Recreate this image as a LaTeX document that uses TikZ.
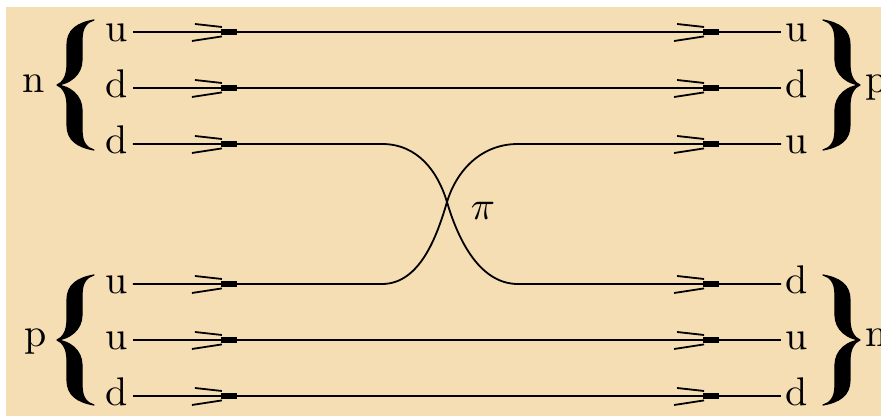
\documentclass[tikz,border=0pt]{standalone}
\usetikzlibrary{decorations.markings}
\definecolor{bg}{HTML}{F5DEB3}
\newcommand\quarkmark{%
  \draw[line width=0.45pt] (-10.5pt,2pt) -- (-3.75pt,1.25pt);
  \draw[line width=0.45pt] (-11.25pt,-2.25pt) -- (-3.75pt,-1.1pt);
  \draw[line width=1.6pt] (-4pt,0pt) -- (0pt,0pt);}
\tikzset{
  x=0.25pt, y=-0.25pt,
  q/.style={inner xsep=1pt, inner ysep=0pt, text height=4.8pt, text depth=0pt},
  side/.style={inner sep=0pt, anchor=base},
  quark/.style={line width=0.45pt, postaction={decorate},
    decoration={markings,
      mark=at position 26pt with {\quarkmark},
      mark=at position -15.5pt with {\quarkmark}}},
  curlybrace/.pic={
    \filldraw[line width=0.3pt, line join=round]
      (37,-65) .. controls (20,-62) and (10,-55) .. (10,-40) -- (10,-20)
      .. controls (10,-8) and (5,-2) .. (0,0)
      .. controls (5,2) and (10,8) .. (10,20) -- (10,40)
      .. controls (10,55) and (20,62) .. (37,65)
      .. controls (30,63) and (25,58) .. (25,45) -- (25,25)
      .. controls (25,10) and (12,1) .. (0,0)
      .. controls (12,-1) and (25,-10) .. (25,-25) -- (25,-45)
      .. controls (25,-58) and (30,-63) .. (37,-65) -- cycle;
  },
}
\begin{document}
\begin{tikzpicture}
  \useasboundingbox (0,0) rectangle (881,416);
  \fill[white] (0,0) rectangle (881,416);
  \fill[bg] (6,7) rectangle (881,416);

  % left quark labels
  \node[q] (l1) at (117,32) {u};
  \node[q] (l2) at (117,88) {d};
  \node[q] (l3) at (117,144) {d};
  \node[q] (l4) at (117,284) {u};
  \node[q] (l5) at (117,340) {u};
  \node[q] (l6) at (117,396) {d};
  % right quark labels
  \node[q] (r1) at (797,32) {u};
  \node[q] (r2) at (797,88) {d};
  \node[q] (r3) at (797,144) {u};
  \node[q] (r4) at (797,284) {d};
  \node[q] (r5) at (797,340) {u};
  \node[q] (r6) at (797,396) {d};

  % hadron labels
  \node[side] (nin) at (34,93) {n};
  \node[side] (pin) at (36,347) {p};
  \node[side, anchor=base west] (pout) at (865,93) {p};
  \node[side, anchor=base west] (nout) at (865,347) {n};

  % braces
  \pic at (57,85) {curlybrace};
  \pic at (57,340) {curlybrace};
  \pic[xscale=-1] at (860,85) {curlybrace};
  \pic[xscale=-1] at (860,340) {curlybrace};

  % pion label and crossing point
  \coordinate (X) at (447,202);
  \node[inner sep=0pt] (pi) at (483,211) {$\pi$};

  % spectator quark lines
  \draw[quark] (l1.east) -- (r1.west);
  \draw[quark] (l2.east) -- (r2.west);
  \draw[quark] (l5.east) -- (r5.west);
  \draw[quark] (l6.east) -- (r6.west);

  % exchanged quark lines
  \draw[quark] (l3.east) -- (382,144)
     .. controls (418,144) and (438,172) .. (X)
     .. controls (457,236) and (478,284) .. (518,284) -- (r4.west);
  \draw[quark] (l4.east) -- (382,284)
     .. controls (420,284) and (437,236) .. (X)
     .. controls (456,172) and (480,144) .. (518,144) -- (r3.west);
\end{tikzpicture}
\end{document}
